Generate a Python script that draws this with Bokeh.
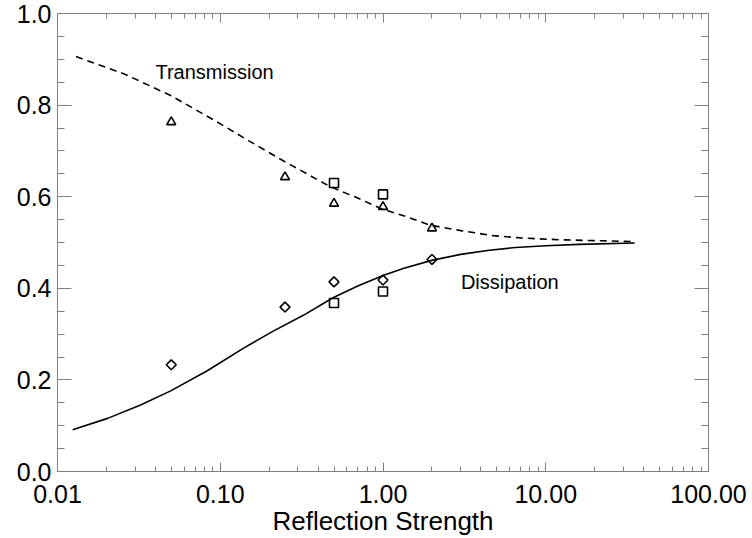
import math
from bokeh.plotting import figure
from bokeh.models import (LogAxis, LinearAxis, Range1d, LogTicker, SingleIntervalTicker,
                          PrintfTickFormatter, CustomJSTickFormatter, ColumnDataSource)
from bokeh.core.properties import value
from bokeh.embed import file_html
from bokeh.resources import INLINE

# ---- data ----
diss_x = [0.0124, 0.0203, 0.0324, 0.0496, 0.0832, 0.140, 0.210, 0.324, 0.496,
          0.70, 1.00, 1.33, 1.99, 3.00, 4.50, 6.50, 10.0, 16.0, 35.2]
diss_y = [0.091, 0.116, 0.145, 0.176, 0.220, 0.270, 0.306, 0.341, 0.380,
          0.405, 0.428, 0.443, 0.461, 0.474, 0.483, 0.489, 0.493, 0.496, 0.499]

trans_x = [0.0130, 0.0257, 0.0496, 0.0959, 0.150, 0.245, 0.473, 0.70, 0.959, 1.40,
           1.94, 3.00, 4.75, 7.00, 12.0, 35.0]
trans_y = [0.906, 0.868, 0.821, 0.763, 0.722, 0.678, 0.622, 0.597, 0.575, 0.556,
           0.538, 0.526, 0.515, 0.510, 0.506, 0.502]

tri_x = [0.05, 0.25, 0.5, 1.0, 2.0]
tri_y = [0.763, 0.643, 0.585, 0.578, 0.531]

dia_x = [0.05, 0.25, 0.5, 1.0, 2.0]
dia_y = [0.233, 0.359, 0.414, 0.418, 0.463]

sq_up_x = [0.5, 1.0]
sq_up_y = [0.630, 0.605]
sq_lo_x = [0.5, 1.0]
sq_lo_y = [0.368, 0.393]

labels_text = ["Transmission", "Dissipation"]
labels_x = [0.040, 3.01]
labels_y = [0.872, 0.413]

x_title = "Reflection Strength"

FONT = "Liberation Sans"
AX = "#808080"

p = figure(width=752, height=538, x_axis_type="log",
           x_range=Range1d(0.01, 100), y_range=Range1d(0.0, 1.0),
           output_backend="svg", toolbar_location=None,
           min_border_left=57, min_border_right=44, min_border_top=13, min_border_bottom=67)
p.grid.visible = False
p.outline_line_color = None
p.background_fill_color = "white"
p.border_fill_color = "white"

def style_axis(ax, labels=True):
    ax.axis_line_color = AX
    ax.axis_line_width = 1
    ax.major_tick_line_color = AX
    ax.minor_tick_line_color = AX
    ax.major_tick_out = 0
    ax.minor_tick_out = 0
    ax.major_label_text_font = FONT
    ax.major_label_text_color = "black"
    if not labels:
        ax.formatter = CustomJSTickFormatter(code="return ''")
        ax.major_label_text_font_size = "1px"
        ax.major_label_standoff = 0

# bottom x axis
xa = p.xaxis[0]
xa.ticker = LogTicker(num_minor_ticks=10)
xa.formatter = PrintfTickFormatter(format="%.2f")
style_axis(xa)
xa.major_tick_in = 9
xa.minor_tick_in = 5
xa.major_label_text_font_size = "25px"
xa.major_label_standoff = 13
xa.axis_label = x_title
xa.axis_label_text_font = FONT
xa.axis_label_text_font_size = "26px"
xa.axis_label_text_font_style = "normal"
xa.axis_label_text_color = "black"
xa.axis_label_standoff = 0

# left y axis
ya = p.yaxis[0]
ya.ticker = SingleIntervalTicker(interval=0.2, num_minor_ticks=4)
ya.formatter = PrintfTickFormatter(format="%.1f")
style_axis(ya)
ya.major_tick_in = 14
ya.minor_tick_in = 7
ya.major_label_text_font_size = "25px"
ya.major_label_standoff = 6

# mirrored top / right axes (ticks only)
top = LogAxis(ticker=LogTicker(num_minor_ticks=10))
style_axis(top, labels=False)
top.major_tick_in = 9
top.minor_tick_in = 5
p.add_layout(top, "above")

right = LinearAxis(ticker=SingleIntervalTicker(interval=0.2, num_minor_ticks=4))
style_axis(right, labels=False)
right.major_tick_in = 14
right.minor_tick_in = 7
p.add_layout(right, "right")

# curves
p.line(trans_x, trans_y, line_color="black", line_width=1.6, line_dash="7 5")
p.line(diss_x, diss_y, line_color="black", line_width=1.6)

# symbols
p.scatter(tri_x, tri_y, marker="triangle", size=9, fill_color=None, line_color="black", line_width=1.6)
p.scatter(dia_x, dia_y, marker="square", angle=math.pi / 4, size=7, fill_color=None,
          line_color="black", line_width=1.6)
p.scatter(sq_up_x, sq_up_y, marker="square", size=9, fill_color=None, line_color="black", line_width=1.6)
p.scatter(sq_lo_x, sq_lo_y, marker="square", size=9, fill_color=None, line_color="black", line_width=1.6)

# labels
src = ColumnDataSource(dict(x=labels_x, y=labels_y, t=labels_text))
p.text(x="x", y="y", text="t", source=src, text_font=value(FONT), text_font_size="20px",
       text_align="left", text_baseline="middle", text_color="black")

open("out.html", "w").write(file_html(p, INLINE))
